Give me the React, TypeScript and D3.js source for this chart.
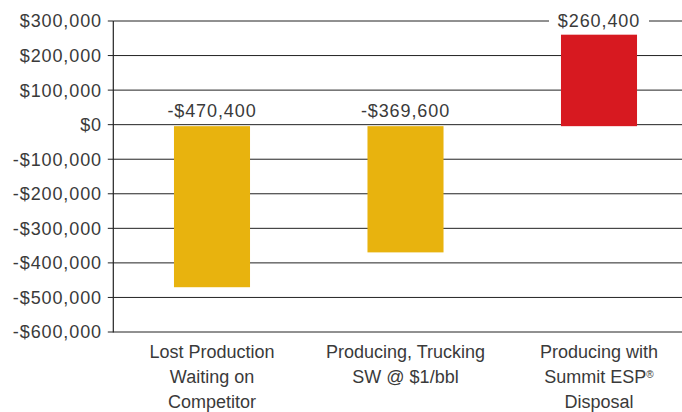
import React from "react";
import * as d3 from "d3";

// Net value per scenario
const categories: string[][] = [
  ["Lost Production", "Waiting on", "Competitor"],
  ["Producing, Trucking", "SW @ $1/bbl"],
  ["Producing with", "Summit ESP®", "Disposal"],
];
const values: number[] = [-470400, -369600, 260400];
const barColors: string[] = ["#E8B30E", "#E8B30E", "#D71920"];
const yTicks: number[] = [300000, 200000, 100000, 0, -100000, -200000, -300000, -400000, -500000, -600000];

const W = 682;
const H = 412;
const axisX = 113.3;
const font = "'Liberation Sans', Arial, Helvetica, sans-serif";
const textColor = "#3a3a3a";

const money = (v: number) => (v < 0 ? "-" : "") + "$" + d3.format(",")(Math.abs(v));

export default function App() {
  const keys = categories.map((_, i) => String(i));
  const x = d3
    .scaleBand<string>()
    .domain(keys)
    .range([115.25, 695.75])
    .paddingInner(0.607)
    .paddingOuter(0.3035);
  const y = d3.scaleLinear().domain([-600000, 300000]).range([332, 21]);
  const base = y(0) + 1.5;

  const renderLabel = (line: string) => {
    if (line.includes("®")) {
      const [a, b] = line.split("®");
      return (
        <>
          {a}
          <tspan fontSize={10} baselineShift="super">®</tspan>
          {b}
        </>
      );
    }
    return line;
  };

  return (
    <svg
      width={W}
      height={H}
      style={{ position: "absolute", left: 0, top: 0, background: "#fff" }}
      fontFamily={font}
    >
      {/* gridlines */}
      {yTicks.map((t) => (
        <line key={"g" + t} x1={axisX} x2={W} y1={y(t)} y2={y(t)} stroke="#222" strokeWidth={1} />
      ))}

      {/* bars */}
      {values.map((v, i) => {
        const top = v >= 0 ? y(v) : base;
        const bottom = v >= 0 ? base : y(v);
        return (
          <rect
            key={"b" + i}
            x={x(keys[i])!}
            width={x.bandwidth()}
            y={top}
            height={bottom - top}
            fill={barColors[i]}
          />
        );
      })}

      {/* y axis */}
      <line x1={axisX} x2={axisX} y1={y(300000)} y2={y(-600000) + 0.5} stroke="#222" strokeWidth={1.2} />
      {yTicks.map((t) => (
        <g key={"t" + t}>
          <line x1={axisX - 5.5} x2={axisX} y1={y(t)} y2={y(t)} stroke="#222" strokeWidth={1} />
          <text
            x={102}
            y={y(t)}
            dy="0.36em"
            textAnchor="end"
            fontSize={18}
            letterSpacing={0.9}
            fill={textColor}
          >
            {money(t)}
          </text>
        </g>
      ))}

      {/* value labels */}
      {values.map((v, i) => {
        const cx = x(keys[i])! + x.bandwidth() / 2;
        const ly = (v >= 0 ? y(v) : y(0)) - 8;
        const label = money(v);
        return (
          <g key={"v" + i}>
            {v >= 0 && <rect x={cx - 50} y={ly - 18} width={100} height={22} fill="#fff" />}
            <text x={cx} y={ly} textAnchor="middle" fontSize={18} letterSpacing={0.9} fill={textColor}>
              {label}
            </text>
          </g>
        );
      })}

      {/* category labels */}
      {categories.map((lines, i) => {
        const cx = x(keys[i])! + x.bandwidth() / 2;
        return (
          <text key={"c" + i} textAnchor="middle" fontSize={18} fill={textColor}>
            {lines.map((ln, j) => (
              <tspan key={j} x={cx} y={358 + j * 25}>
                {renderLabel(ln)}
              </tspan>
            ))}
          </text>
        );
      })}
    </svg>
  );
}
